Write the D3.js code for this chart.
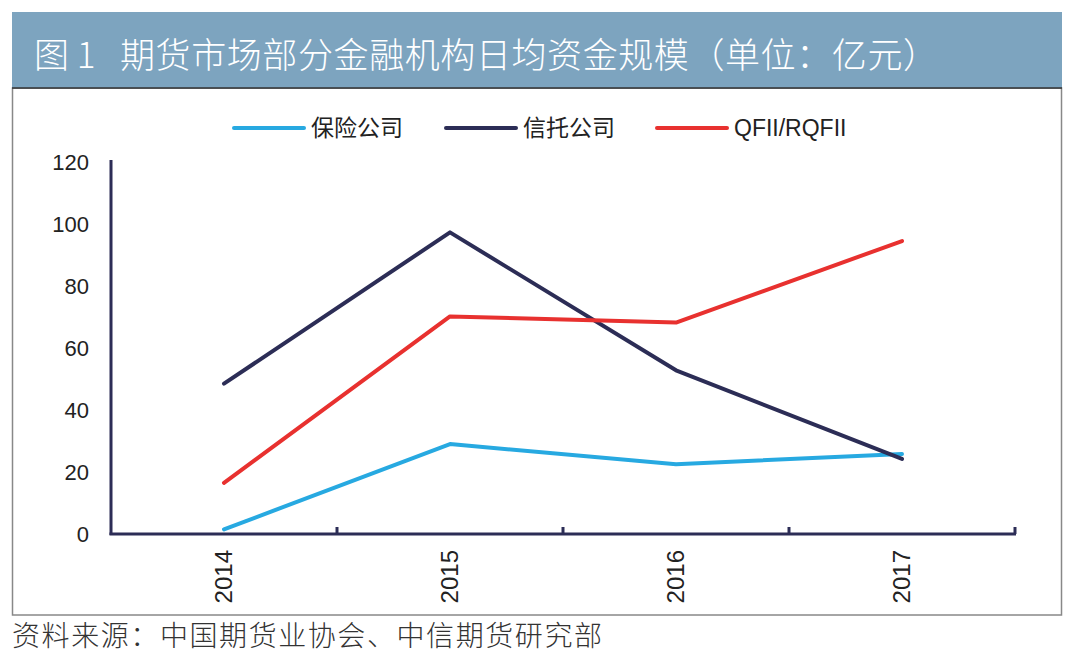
<!DOCTYPE html>
<html><head><meta charset="utf-8">
<script src="https://cdn.jsdelivr.net/npm/d3@7"></script>
<style>body{margin:0;background:#fff}svg{display:block}</style>
</head><body>
<svg id="c" width="1080" height="660"></svg>
<script>
const years = ["2014","2015","2016","2017"];
const insurance = [1.5, 29, 22.5, 25.8];
const trust = [48.5, 97.3, 52.8, 24.2];
const qfii = [16.5, 70.2, 68.2, 94.5];
const seriesNames = ["保险公司","信托公司","QFII/RQFII"];
const yTicks = [0,20,40,60,80,100,120];
const titleLabel = "图 1";
const titleText = "期货市场部分金融机构日均资金规模（单位：亿元）";
const sourceText = "资料来源：中国期货业协会、中信期货研究部";

const colors = ["#27a9e1","#2c2d56","#e8312f"];
const svg = d3.select("#c");

// chart frame
svg.append("rect").attr("x",12.5).attr("y",88).attr("width",1049).attr("height",527)
  .attr("fill","none").attr("stroke","#888").attr("stroke-width",1.5);
// title bar
svg.append("rect").attr("x",12).attr("y",12).attr("width",1050).attr("height",76).attr("fill","#7da4bf");
svg.append("line").attr("x1",12).attr("x2",1062).attr("y1",88).attr("y2",88).attr("stroke","#333").attr("stroke-width",1.5);
const tf = "'Noto Sans CJK SC',sans-serif";
svg.append("text").attr("x",34).attr("y",68).attr("fill","#fff").attr("font-weight",300)
  .attr("font-family",tf).attr("font-size",35).text(titleLabel);
svg.append("text").attr("x",120).attr("y",68).attr("fill","#fff").attr("font-weight",300)
  .attr("font-family",tf).attr("font-size",35)
  .attr("textLength",818).attr("lengthAdjust","spacing").text(titleText);

const x = d3.scaleBand().domain(years).range([111,1015]);
const y = d3.scaleLinear().domain([0,120]).range([534,162]);

// y labels
const yAxis = d3.axisLeft(y).tickValues(yTicks).tickSize(0).tickPadding(22);
const gy = svg.append("g").attr("transform","translate(111,0)").call(yAxis);
gy.select(".domain").remove();
gy.selectAll("text").attr("font-family","'Liberation Sans',Arial,sans-serif").attr("font-size",22).attr("fill","#222");
svg.append("line").attr("x1",111).attr("x2",111).attr("y1",160).attr("y2",535).attr("stroke","#2c2d56").attr("stroke-width",3);

// x axis
svg.append("line").attr("x1",109.5).attr("x2",1016).attr("y1",534).attr("y2",534).attr("stroke","#2c2d56").attr("stroke-width",3);
const bounds = years.map(d => x(d) + x.bandwidth());
svg.selectAll(".tk").data(bounds).enter().append("line")
  .attr("x1",d=>d).attr("x2",d=>d).attr("y1",534).attr("y2",527)
  .attr("stroke","#2c2d56").attr("stroke-width",3);
svg.selectAll(".xl").data(years).enter().append("text")
  .attr("transform",d=>`translate(${x(d)+x.bandwidth()/2+8},550) rotate(-90)`)
  .attr("text-anchor","end").attr("font-family","'Liberation Sans',Arial,sans-serif")
  .attr("font-size",24).attr("fill","#222").text(d=>d);

// lines
const data = [insurance, trust, qfii];
const line = d3.line().x((d,i)=>x(years[i])+x.bandwidth()/2).y(d=>y(d));
data.forEach((s,k)=>{
  svg.append("path").datum(s).attr("d",line).attr("fill","none")
    .attr("stroke",colors[k]).attr("stroke-width",4).attr("stroke-linecap","round").attr("stroke-linejoin","round");
});

// legend
const legX = [234,446,657];
seriesNames.forEach((n,k)=>{
  svg.append("line").attr("x1",legX[k]).attr("x2",legX[k]+70).attr("y1",128).attr("y2",128)
    .attr("stroke",colors[k]).attr("stroke-width",4).attr("stroke-linecap","round");
  svg.append("text").attr("x",legX[k]+77).attr("y",136)
    .attr("font-family", k===2 ? "'Liberation Sans',Arial,sans-serif" : "'Noto Sans CJK SC',sans-serif")
    .attr("font-size",k===2?23:23).attr("fill","#222").text(n);
});

// source
svg.append("text").attr("x",12).attr("y",646).attr("fill","#333").attr("font-weight",300)
  .attr("font-family",tf).attr("font-size",28)
  .attr("textLength",590).attr("lengthAdjust","spacing").text(sourceText);
</script>
</body></html>
